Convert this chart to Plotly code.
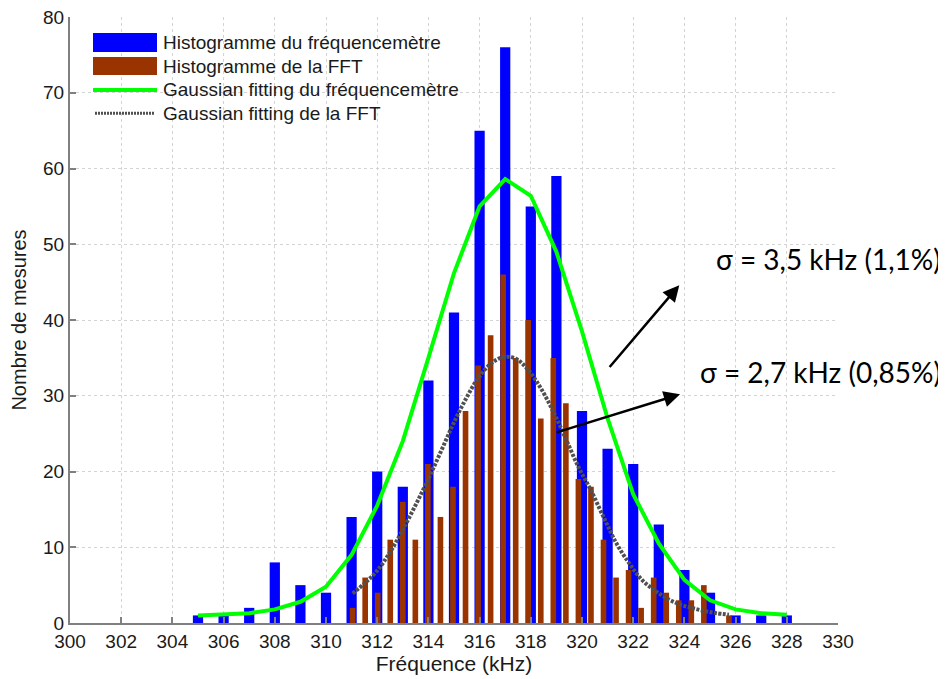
import plotly.graph_objects as go

# ---------------- data ----------------
freq_bins = [305, 306, 307, 308, 309, 310, 311, 312, 313, 314, 315, 316,
             317, 318, 319, 320, 321, 322, 323, 324, 325, 326, 327, 328]
freq_counts = [1, 1, 2, 8, 5, 4, 14, 20, 18, 32, 41, 65,
               76, 55, 59, 28, 23, 21, 13, 7, 4, 1, 1, 1]

fft_bins = [311.04, 311.53, 312.02, 312.51, 313.00, 313.49, 313.98, 314.47,
            314.96, 315.45, 315.94, 316.43, 316.92, 317.41, 317.90, 318.39,
            318.88, 319.37, 319.86, 320.35, 320.84, 321.33, 321.82, 322.31,
            322.80, 323.29, 323.78, 324.27, 324.76, 325.25, 325.74]
fft_counts = [2, 6, 4, 11, 16, 11, 21, 14,
              18, 28, 34, 38, 46, 35, 40, 27,
              35, 29, 19, 18, 11, 6, 7, 2,
              6, 4, 3, 3, 5, 0, 1]

fit_freq_y = [1.0, 1.1, 1.3, 1.8, 2.8, 4.8, 9.0, 15.5, 24.0, 35.0, 46.2, 55.0,
              58.6, 56.4, 49.0, 38.5, 27.0, 17.0, 10.5, 5.7, 3.0, 1.8, 1.3, 1.1]

fit_fft_y = [3.9, 5.3, 7.0, 9.4, 12.3, 15.5, 18.9, 22.5,
             26.2, 29.5, 32.3, 34.2, 35.1, 34.9, 33.4, 31.0,
             27.9, 24.3, 20.6, 17.5, 14.0, 10.6, 8.0, 5.8,
             4.4, 3.3, 2.5, 2.0, 1.6, 1.3, 1.1]

legend_labels = ["Histogramme du fréquencemètre", "Histogramme de la FFT",
                 "Gaussian fitting du fréquencemètre", "Gaussian fitting de la FFT"]
sigma_labels = ["σ = 3,5 kHz (1,1%)", "σ = 2,7 kHz (0,85%)"]

x_ticks = list(range(300, 331, 2))
y_ticks = list(range(0, 81, 10))

# ---------------- styles ----------------
BLUE = "#0000FF"
BROWN = "#993300"
GREEN = "#00FF00"
DOT = "#505050"
AXIS = "#808080"
GRID = "#d4d4d4"
FONT = "Liberation Sans, Arial, sans-serif"
SIGMA_FONT = "Lato, Open Sans, sans-serif"

OFF = 8  # page body margin
W, H = 946 - OFF, 679 - OFF
L, T = 70 - OFF, 17 - OFF
PW, PH = 768, 606
R, B = W - L - PW, H - T - PH


def px(xw):
    """window pixel x -> paper fraction"""
    return (xw - OFF - L) / PW


def py(yw):
    """window pixel y -> paper fraction"""
    return (T + PH - (yw - OFF)) / PH


fig = go.Figure()
fig.add_trace(go.Bar(x=freq_bins, y=freq_counts, width=0.4,
                     marker=dict(color=BLUE, line=dict(width=0)),
                     name=legend_labels[0], showlegend=False))
fig.add_trace(go.Bar(x=fft_bins, y=fft_counts, width=0.22,
                     marker=dict(color=BROWN, line=dict(width=0)),
                     name=legend_labels[1], showlegend=False))
fig.add_trace(go.Scatter(x=freq_bins, y=fit_freq_y, mode="lines",
                         line=dict(color=GREEN, width=4),
                         name=legend_labels[2], showlegend=False))
fig.add_trace(go.Scatter(x=fft_bins, y=fit_fft_y, mode="lines",
                         line=dict(color=DOT, width=4, dash="3px,1.5px", shape="spline"),
                         name=legend_labels[3], showlegend=False))

shapes = []
annotations = []

# custom legend (matches the wide swatches of the reference)
rows_y = [42.7, 66.0, 90.0, 113.3]
shapes.append(dict(type="rect", xref="paper", yref="paper",
                   x0=px(93), x1=px(157), y0=py(52), y1=py(33),
                   fillcolor=BLUE, line=dict(width=0)))
shapes.append(dict(type="rect", xref="paper", yref="paper",
                   x0=px(93), x1=px(157), y0=py(75), y1=py(57),
                   fillcolor=BROWN, line=dict(width=0)))
shapes.append(dict(type="line", xref="paper", yref="paper",
                   x0=px(93), x1=px(157), y0=py(rows_y[2]), y1=py(rows_y[2]),
                   line=dict(color=GREEN, width=4)))
shapes.append(dict(type="line", xref="paper", yref="paper",
                   x0=px(95), x1=px(155), y0=py(rows_y[3]), y1=py(rows_y[3]),
                   line=dict(color=DOT, width=3, dash="2px,1px")))
for lab, yy in zip(legend_labels, rows_y):
    annotations.append(dict(text=lab, xref="paper", yref="paper",
                            x=px(161), y=py(yy), xanchor="left", yanchor="middle",
                            showarrow=False,
                            font=dict(family=FONT, size=19, color="#1a1a1a")))

# sigma texts
annotations.append(dict(text=sigma_labels[0], xref="paper", yref="paper",
                        x=px(943), y=py(259), xanchor="right", yanchor="middle",
                        showarrow=False,
                        font=dict(family=SIGMA_FONT, size=28, color="black")))
annotations.append(dict(text=sigma_labels[1], xref="paper", yref="paper",
                        x=px(943), y=py(372), xanchor="right", yanchor="middle",
                        showarrow=False,
                        font=dict(family=SIGMA_FONT, size=28, color="black")))

# arrows
annotations.append(dict(text="", x=323.8, y=44.6, ax=321.03, ay=33.6,
                        xref="x", yref="y", axref="x", ayref="y",
                        showarrow=True, arrowhead=2, arrowsize=1.3,
                        arrowwidth=2.5, arrowcolor="black"))
annotations.append(dict(text="", x=323.83, y=30.2, ax=318.95, ay=25.1,
                        xref="x", yref="y", axref="x", ayref="y",
                        showarrow=True, arrowhead=2, arrowsize=1.3,
                        arrowwidth=2.5, arrowcolor="black"))

fig.update_layout(
    width=W, height=H,
    margin=dict(l=L, r=R, t=T, b=B, autoexpand=False),
    paper_bgcolor="white", plot_bgcolor="white",
    barmode="overlay",
    showlegend=False,
    shapes=shapes,
    annotations=annotations,
    font=dict(family=FONT, size=19, color="#1a1a1a"),
)
fig.update_xaxes(range=[300, 330], tickvals=x_ticks, ticks="inside", ticklen=6,
                 tickcolor=AXIS, tickwidth=1.5,
                 showline=True, linecolor=AXIS, linewidth=2,
                 showgrid=True, gridcolor=GRID, gridwidth=1, griddash="3px,3px",
                 zeroline=False, automargin=False, ticklabeloverflow="allow",
                 tickfont=dict(family=FONT, size=19),
                 title=dict(text="Fréquence (kHz)", standoff=4,
                            font=dict(family=FONT, size=21)))
fig.update_yaxes(range=[0, 80], tickvals=y_ticks, ticks="inside", ticklen=6,
                 tickcolor=AXIS, tickwidth=1.5,
                 showline=True, linecolor=AXIS, linewidth=2,
                 showgrid=True, gridcolor=GRID, gridwidth=1, griddash="3px,3px",
                 zeroline=False, automargin=False, ticklabeloverflow="allow",
                 tickfont=dict(family=FONT, size=19),
                 title=dict(text="Nombre de mesures", standoff=12,
                            font=dict(family=FONT, size=20)))

fig.write_html("out.html")
